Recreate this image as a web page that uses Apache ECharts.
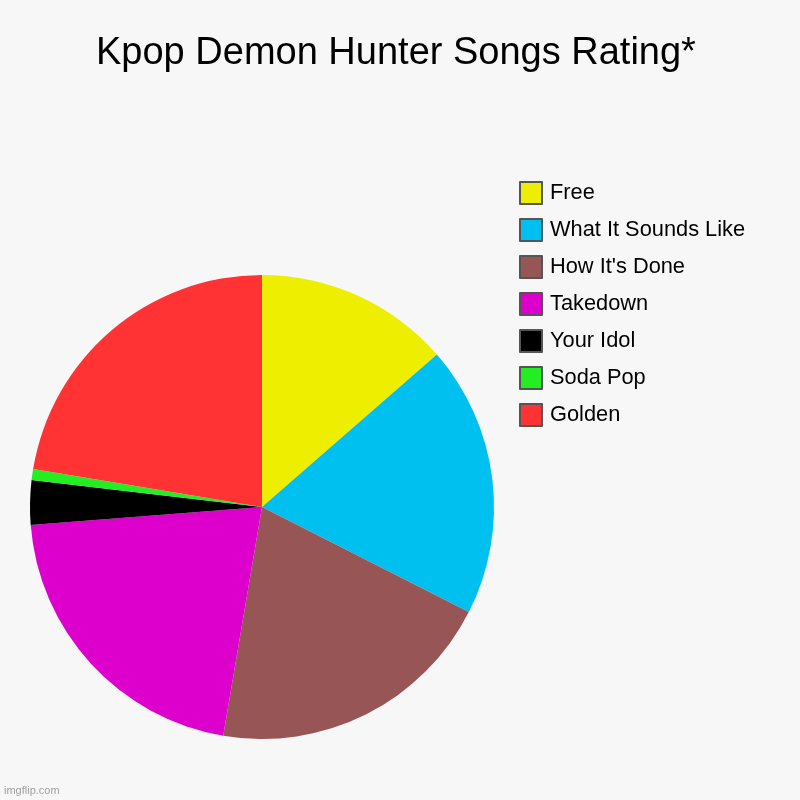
<!DOCTYPE html>
<html>
<head>
<meta charset="utf-8">
<script src="https://cdn.jsdelivr.net/npm/echarts@6/dist/echarts.min.js"></script>
<style>html,body{margin:0;padding:0;background:#f7f7f7;}#c{width:800px;height:800px;}</style>
</head>
<body>
<div id="c"></div>
<script>
const categories = ["Free", "What It Sounds Like", "How It's Done", "Takedown", "Your Idol", "Soda Pop", "Golden"];
const values = [13.6, 18.9, 20.2, 21.1, 3.1, 0.75, 22.4];
const colors = ["#eeee00", "#00c0f0", "#985555", "#dd00cc", "#000000", "#22ee22", "#ff3333"];

const chart = echarts.init(document.getElementById('c'));
chart.setOption({
  backgroundColor: '#f7f7f7',
  animation: false,
  color: colors,
  title: {
    text: 'Kpop Demon Hunter Songs Rating*',
    left: 91,
    top: 30,
    textStyle: { fontFamily: '"Liberation Sans", Arial, sans-serif', fontSize: 38, fontWeight: 'normal', color: '#000' }
  },
  legend: {
    orient: 'vertical',
    left: 519,
    top: 181,
    padding: 0,
    itemWidth: 22,
    itemHeight: 22,
    itemGap: 13,
    icon: 'rect',
    itemStyle: { borderColor: '#555', borderWidth: 2 },
    textStyle: { fontFamily: '"Liberation Sans", Arial, sans-serif', fontSize: 21.8, color: '#000', padding: [0, 0, 0, 3] },
    data: categories
  },
  graphic: [{
    type: 'text', left: 4, top: 785,
    style: { text: 'imgflip.com', fill: '#a0a0a0', font: '11px "Liberation Sans", Arial, sans-serif' }
  }],
  series: [{
    type: 'pie',
    center: [262, 507],
    radius: 232,
    startAngle: 90,
    clockwise: true,
    label: { show: false },
    labelLine: { show: false },
    emphasis: { disabled: true },
    itemStyle: { borderWidth: 0 },
    data: categories.map((c, i) => ({ name: c, value: values[i] }))
  }]
});
</script>
</body>
</html>
